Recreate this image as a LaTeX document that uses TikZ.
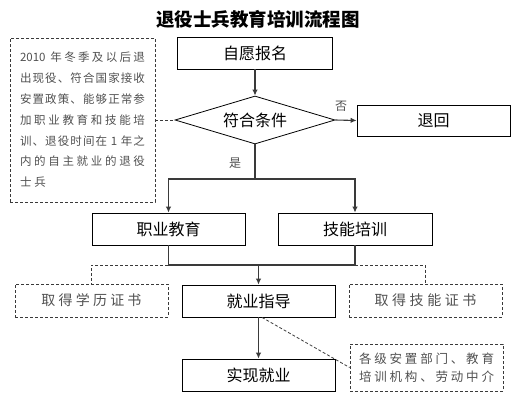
\documentclass[tikz,border=0pt]{standalone}
\usepackage{fontspec}
\setmainfont{Noto Sans CJK SC}
\usetikzlibrary{shapes.geometric,arrows.meta,calc}
\makeatletter
\newcommand\spr[2]{\makebox[#1][s]{\def\sprsep{}\@tfor\sprc:=#2\do{\sprsep\sprc\def\sprsep{\hfill}}}}
\makeatother
\definecolor{lnc}{HTML}{3A3A3A}
\definecolor{txg}{HTML}{505050}
\tikzset{
  mainbox/.style={draw=black, line width=0.8pt, inner sep=0pt, font=\fontsize{16}{19}\selectfont, minimum width=153pt, minimum height=32pt},
  dbox/.style={draw=lnc, line width=0.8pt, dash pattern=on 3pt off 2pt, inner sep=0pt, text=txg, minimum width=153pt, minimum height=33pt},
  conn/.style={draw=lnc, line width=1.1pt},
  arr/.style={conn, -{Latex[length=6pt,width=5.5pt]}},
  dl/.style={draw=lnc, line width=0.8pt, dash pattern=on 3pt off 2pt},
  lbl/.style={font=\fontsize{12}{14}\selectfont, text=txg, inner sep=0pt}
}
\begin{document}
\begin{tikzpicture}[x=1pt,y=-1pt]
\useasboundingbox (0,0) rectangle (515,400);
\node[font=\fontsize{18.5}{22}\selectfont\bfseries, inner sep=0pt] (title) at (258,19) {退役士兵教育培训流程图};
\node[draw=lnc, line width=0.8pt, dash pattern=on 3pt off 2pt, minimum width=145pt, minimum height=164pt, inner sep=0pt, align=left, text=txg, font=\fontsize{11.5}{20.8}\selectfont] (note) at (82.5,120)
 {\spr{125pt}{{2010~}年冬季及以后退}\\
  \spr{125pt}{出现役、符合国家接收}\\
  \spr{125pt}{安置政策、能够正常参}\\
  \spr{125pt}{加职业教育和技能培}\\
  \spr{125pt}{训、退役时间在{~1~}年之}\\
  \spr{125pt}{内的自主就业的退役}\\
  士\hspace{3pt}兵};
\node[mainbox, minimum width=155pt] (zy) at (255,53) {自愿报名};
\node[draw=black, line width=0.8pt, diamond, aspect=3.33, minimum width=160pt, minimum height=48pt, inner sep=0pt, font=\fontsize{16}{19}\selectfont] (dia) at (255,120) {符合条件};
\node[mainbox, minimum height=31pt] (back) at (433.5,120.5) {退回};
\node[mainbox] (zyjy) at (168.5,229) {职业教育};
\node[mainbox, minimum width=154pt] (jnpx) at (355,229) {技能培训};
\node[dbox, font=\fontsize{14}{16}\selectfont] (xl) at (91.5,300.5) {\spr{100pt}{取得学历证书}};
\node[mainbox] (jyzd) at (258.5,301) {就业指导};
\node[dbox, font=\fontsize{14}{16}\selectfont] (jn) at (425.5,300.5) {\spr{102pt}{取得技能证书}};
\node[mainbox] (sxjy) at (258.5,375) {实现就业};
\node[dbox, minimum height=47pt, align=left, font=\fontsize{12.5}{18}\selectfont] (org) at (426.5,367.5)
 {\spr{135pt}{各级安置部门、教育}\\ \spr{135pt}{培训机构、劳动中介}};
\coordinate (s1) at (255,179);
\coordinate (j1) at (168.5,265);
\coordinate (j2) at (355,265);
\coordinate (m1) at (258.5,265);
\draw[arr] (zy.south) -- (dia.north);
\draw[arr] (dia.east) -- (back.west);
\node[lbl] (no) at (341,106) {否};
\draw[dl] (note.east |- dia.west) -- (dia.west);
\draw[conn] (dia.south) -- (s1);
\node[lbl] (yes) at (235,163) {是};
\draw[arr] (s1) -| (zyjy.north);
\draw[arr] (s1) -| (jnpx.north);
\draw[conn] (zyjy.south) -- (j1) -- (j2) -- (jnpx.south);
\draw[dl] (zyjy.south) -- (j1) -| (xl.north);
\draw[dl] (j2) -| (jn.north);
\draw[arr] (m1) -- (jyzd.north);
\draw[arr] (jyzd.south) -- (sxjy.north);
\draw[dl] ($(jyzd.south)+(3.5,0)$) -- (org.west);
\end{tikzpicture}
\end{document}
